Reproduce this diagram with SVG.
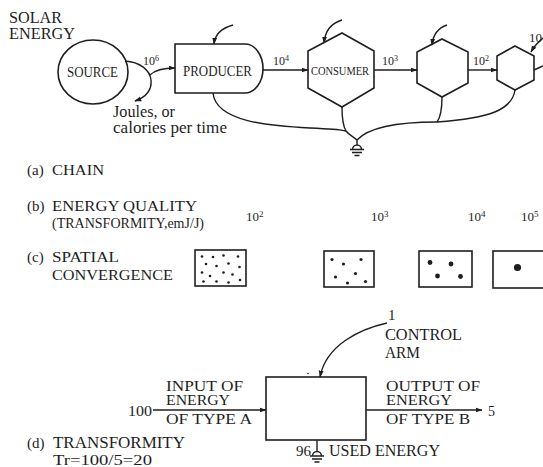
<svg xmlns="http://www.w3.org/2000/svg" width="543" height="467" viewBox="0 0 543 467">
<style>
text{font-family:"Liberation Serif","Times New Roman",serif;fill:#1e1e1e;}
.s{fill:none;stroke:#1e1e1e;stroke-width:1.4;}
.b{fill:#fff;stroke:#1e1e1e;stroke-width:1.6;}
.d{fill:#1e1e1e;}
.lab{font-size:15px;}
.num{font-size:12px;}
.num2{font-size:13px;}
.sup{font-size:8px;}
.sup2{font-size:9px;}
</style>
<defs>
<marker id="ah" viewBox="0 0 10 10" refX="9" refY="5" markerWidth="7" markerHeight="7" markerUnits="userSpaceOnUse" orient="auto">
<path d="M0,1.5 L10,5 L0,8.5 Z" fill="#1e1e1e"/>
</marker>
</defs>
<rect width="543" height="467" fill="#fff"/>

<!-- (a) chain -->
<text x="9" y="23" font-size="16" textLength="53" lengthAdjust="spacingAndGlyphs">SOLAR</text>
<text x="9" y="39" font-size="16" textLength="66" lengthAdjust="spacingAndGlyphs">ENERGY</text>

<g id="source">
<ellipse class="b" cx="93" cy="72" rx="35" ry="32"/>
<text x="67" y="77" font-size="14" textLength="51" lengthAdjust="spacingAndGlyphs">SOURCE</text>
</g>
<g id="producer">
<path class="b" d="M175,44 H245 A18,24.5 0 0 1 245,93 H175 Z"/>
<text x="183" y="76" font-size="14" textLength="69" lengthAdjust="spacingAndGlyphs">PRODUCER</text>
</g>
<g id="consumer">
<path class="b" d="M342,33 L374,51 L374,88 L342,107 L308,88 L308,51 Z"/>
<text x="311" y="75" font-size="12" textLength="58" lengthAdjust="spacingAndGlyphs">CONSUMER</text>
</g>
<g id="consumer2">
<path class="b" d="M442,39 L468,52 L468,83 L442,97 L417,83 L417,52 Z"/>
</g>
<g id="consumer3">
<path class="b" d="M515,46 L534,56 L534,80 L515,90 L497,80 L497,56 Z"/>
</g>

<g id="connectors">
<!-- source outflow split -->
<path class="s" d="M125,61 C140,62 150,70 151,80 C152,90 146,97 135,101" marker-end="url(#ah)"/>
<path class="s" d="M150,75 C155,70 162,68 175,68" marker-end="url(#ah)"/>
<!-- chain flows -->
<path class="s" d="M263,70 H308" marker-end="url(#ah)"/>
<path class="s" d="M374,70 H417" marker-end="url(#ah)"/>
<path class="s" d="M468,70 H497" marker-end="url(#ah)"/>
<path class="s" d="M534,70 L543,66"/>
<!-- control inputs -->
<path class="s" d="M233,25 C222,28 215,34 214,44" marker-end="url(#ah)"/>
<path class="s" d="M342,20 C332,23 325,31 324,43" marker-end="url(#ah)"/>
<path class="s" d="M447,25 C438,28 433,35 432,45" marker-end="url(#ah)"/>
<path class="s" d="M546,36 C540,40 535,45 531,52" marker-end="url(#ah)"/>
<!-- heat sink lines -->
<path class="s" d="M213,93 C216,122 270,126 310,128 S338,130 346,131"/>
<path class="s" d="M342,107 C342,118 343,126 346,131 C349,135 354,137 357,140"/>
<path class="s" d="M442,97 C442,110 440,118 437,122"/>
<path class="s" d="M515,90 C512,110 490,118 437,122"/>
<path class="s" d="M437,122 C400,122 370,126 357,140"/>
<!-- heat sink (a) -->
<path class="s" d="M357,140 V145 M352.5,149.5 A4.5,4.5 0 0 1 361.5,149.5 M350,149.5 H364 M352,152.5 H362 M354.5,155.5 H359.5"/>
<!-- (d) connectors -->
<path class="s" d="M387,323 C360,329 326,345 320,377" marker-end="url(#ah)"/>
<path class="s" d="M153,410 H266" marker-end="url(#ah)"/>
<path class="s" d="M366,410 H482" marker-end="url(#ah)"/>
<path class="s" d="M317,440 V452 M312.5,456 A4.5,4.5 0 0 1 321.5,456 M310,456 H324 M312,459 H322 M314.5,462 H319.5"/>
</g>

<text x="143" y="65" class="num">10<tspan class="sup" dy="-4">6</tspan></text>
<text x="273" y="65" class="num">10<tspan class="sup" dy="-4">4</tspan></text>
<text x="382" y="65" class="num">10<tspan class="sup" dy="-4">3</tspan></text>
<text x="473" y="65" class="num">10<tspan class="sup" dy="-4">2</tspan></text>
<text x="529" y="42" font-size="13">10</text>

<text x="113" y="117" font-size="16" textLength="62" lengthAdjust="spacingAndGlyphs">Joules, or</text>
<text x="113" y="133" font-size="16" textLength="114" lengthAdjust="spacingAndGlyphs">calories per time</text>

<text x="27" y="175" class="lab">(a)</text>
<text x="52" y="175" class="lab" textLength="52" lengthAdjust="spacingAndGlyphs">CHAIN</text>

<!-- (b) -->
<text x="27" y="211" class="lab">(b)</text>
<text x="52" y="211" class="lab" textLength="145" lengthAdjust="spacingAndGlyphs">ENERGY QUALITY</text>
<text x="52" y="228" font-size="14" textLength="152" lengthAdjust="spacingAndGlyphs">(TRANSFORMITY,emJ/J)</text>
<text x="246" y="221" class="num2">10<tspan class="sup2" dy="-4">2</tspan></text>
<text x="371" y="221" class="num2">10<tspan class="sup2" dy="-4">3</tspan></text>
<text x="468" y="221" class="num2">10<tspan class="sup2" dy="-4">4</tspan></text>
<text x="521" y="221" class="num2">10<tspan class="sup2" dy="-4">5</tspan></text>

<!-- (c) -->
<text x="27" y="262" class="lab">(c)</text>
<text x="52" y="262" class="lab" textLength="67" lengthAdjust="spacingAndGlyphs">SPATIAL</text>
<text x="52" y="280" class="lab" textLength="121" lengthAdjust="spacingAndGlyphs">CONVERGENCE</text>

<g id="conv1">
<rect class="b" x="195" y="250" width="51" height="36"/>
<g class="d">
<circle cx="202" cy="256.5" r="1.3"/><circle cx="213" cy="257" r="1.3"/><circle cx="223.5" cy="255.5" r="1.3"/><circle cx="238" cy="256.5" r="1.3"/>
<circle cx="206" cy="264" r="1.3"/><circle cx="216.5" cy="266" r="1.3"/><circle cx="228.5" cy="263.5" r="1.3"/><circle cx="239.5" cy="267" r="1.3"/>
<circle cx="202" cy="272.5" r="1.3"/><circle cx="210" cy="276" r="1.3"/><circle cx="223.5" cy="272.5" r="1.3"/><circle cx="232.5" cy="274.5" r="1.3"/>
<circle cx="203.5" cy="281.5" r="1.3"/><circle cx="216.5" cy="281.5" r="1.3"/><circle cx="228.5" cy="282.5" r="1.3"/><circle cx="240" cy="280" r="1.3"/>
</g>
</g>
<g id="conv2">
<rect class="b" x="324" y="251" width="50" height="36"/>
<g class="d">
<circle cx="332" cy="259.5" r="1.6"/><circle cx="343.5" cy="264" r="1.6"/><circle cx="361" cy="259.5" r="1.6"/>
<circle cx="335.5" cy="277" r="1.6"/><circle cx="347.5" cy="283" r="1.6"/><circle cx="355.5" cy="273.5" r="1.6"/><circle cx="365.5" cy="281.5" r="1.6"/>
</g>
</g>
<g id="conv3">
<rect class="b" x="419" y="251" width="53" height="36"/>
<g class="d">
<circle cx="430" cy="262.5" r="2.4"/><circle cx="451" cy="264" r="2.4"/><circle cx="437.5" cy="276" r="2.4"/><circle cx="460.5" cy="276.5" r="2.4"/>
</g>
</g>
<g id="conv4">
<rect class="b" x="493" y="251" width="60" height="37"/>
<circle class="d" cx="517.5" cy="267.5" r="3.6"/>
</g>

<!-- (d) -->
<g id="transformer">
<rect class="b" x="266" y="377" width="100" height="63"/>
</g>
<circle class="d" cx="308" cy="373.5" r="0.8"/>
<text x="388" y="320" font-size="15">1</text>
<text x="385" y="340" font-size="16" textLength="77" lengthAdjust="spacingAndGlyphs">CONTROL</text>
<text x="385" y="358" font-size="16" textLength="35" lengthAdjust="spacingAndGlyphs">ARM</text>
<text x="128" y="416" font-size="14" textLength="24" lengthAdjust="spacingAndGlyphs">100</text>
<text x="166" y="391" font-size="14" textLength="77" lengthAdjust="spacingAndGlyphs">INPUT OF</text>
<text x="166" y="405" font-size="14" textLength="64" lengthAdjust="spacingAndGlyphs">ENERGY</text>
<text x="166" y="424" font-size="14" textLength="86" lengthAdjust="spacingAndGlyphs">OF TYPE A</text>
<text x="386" y="391" font-size="14" textLength="94" lengthAdjust="spacingAndGlyphs">OUTPUT OF</text>
<text x="386" y="405" font-size="14" textLength="66" lengthAdjust="spacingAndGlyphs">ENERGY</text>
<text x="386" y="424" font-size="14" textLength="84" lengthAdjust="spacingAndGlyphs">OF TYPE B</text>
<text x="488" y="416" font-size="14">5</text>
<text x="296" y="456" font-size="15" textLength="15" lengthAdjust="spacingAndGlyphs">96</text>
<text x="329" y="456" font-size="16" textLength="111" lengthAdjust="spacingAndGlyphs">USED ENERGY</text>
<text x="27" y="448" class="lab">(d)</text>
<text x="53" y="448" font-size="16" textLength="132" lengthAdjust="spacingAndGlyphs">TRANSFORMITY</text>
<text x="53" y="465" font-size="15" textLength="99" lengthAdjust="spacingAndGlyphs">Tr=100/5=20</text>
</svg>
